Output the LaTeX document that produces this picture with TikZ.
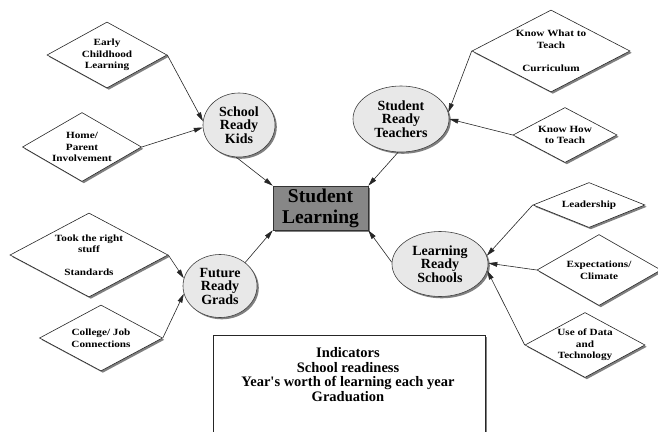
\documentclass[tikz,border=0pt]{standalone}
\usepackage{fontspec}
\setmainfont{Liberation Serif}
\newfontfamily\dfont{Liberation Serif}[FakeStretch=1.18]
\usetikzlibrary{shapes.geometric,arrows.meta,shadows}
\tikzset{
  shd/.style={drop shadow={shadow xshift=1.8pt, shadow yshift=-1.8pt, fill=black!50, opacity=1}},
  dia/.style={shape=diamond, draw=black!85, line width=0.6pt, fill=white, inner sep=0pt,
    align=center, font=\dfont\bfseries\fontsize{9.5}{11.5}\selectfont, shd},
  ell/.style={shape=ellipse, draw=black!75, line width=0.6pt, fill=black!9, inner sep=0pt,
    align=center, font=\bfseries\fontsize{14}{13.5}\selectfont, shd},
  arr/.style={-{Triangle[length=9pt,width=4.8pt]}, line width=0.6pt, draw=black!85},
}
\begin{document}
\begin{tikzpicture}[x=1pt,y=-1pt]
\path[use as bounding box] (0,0) rectangle (658,431);
\clip (0,0) rectangle (658,431);
% left diamonds
\node[dia, minimum width=120pt, minimum height=66pt, aspect=1.82] (ecl) at (107,55) {Early\\Childhood\\Learning};
\node[dia, minimum width=119pt, minimum height=69pt, aspect=1.72] (hpi) at (82,147) {Home/\\Parent\\Involvement};
\node[dia, minimum width=158pt, minimum height=84pt, aspect=1.88] (trs) at (89,255) {Took the right\\stuff\\[11.5pt]Standards};
\node[dia, minimum width=123pt, minimum height=66pt, aspect=1.86] (cjc) at (101,338) {College/ Job\\Connections};
% right diamonds
\node[dia, minimum width=158pt, minimum height=82pt, aspect=1.93] (kwt) at (551,51) {Know What to\\Teach\\[11.5pt]Curriculum};
\node[dia, minimum width=104pt, minimum height=55pt, aspect=1.89] (kht) at (565,135) {Know How\\to Teach};
\node[dia, minimum width=112pt, minimum height=45pt, aspect=2.5] (lead) at (589,205) {Leadership};
\node[dia, minimum width=124pt, minimum height=71pt, aspect=1.75] (exp) at (599,270) {Expectations/\\Climate};
\node[dia, minimum width=120pt, minimum height=65pt, aspect=1.85] (udt) at (585,345) {Use of Data\\and\\Technology};
% ellipses
\node[ell, minimum width=72pt, minimum height=64pt] (srk) at (239,125) {School\\Ready\\Kids};
\node[ell, minimum width=96pt, minimum height=66pt] (srt) at (401,119) {Student\\Ready\\Teachers};
\node[ell, minimum width=74pt, minimum height=63pt] (frg) at (220,286) {Future\\Ready\\Grads};
\node[ell, minimum width=96pt, minimum height=65pt] (lrs) at (440,264) {Learning\\Ready\\Schools};
% centre
\node[draw=black!80, line width=0.6pt, fill=black!47, minimum width=95pt, minimum height=44pt, inner sep=0pt,
  align=center, font=\bfseries\fontsize{19.5}{21}\selectfont, shd] (sl) at (320.5,208) {Student\\Learning};
% indicators
\node[draw=black!85, line width=0.6pt, fill=white, minimum width=272pt, minimum height=115pt, anchor=north, shd] (indbox) at (349,335) {};
\node[align=center, font=\bfseries\fontsize{14.5}{14.5}\selectfont, inner sep=0pt] (ind) at (348,374.5) {Indicators\\School readiness\\Year\textquotesingle s worth of learning each year\\Graduation};
% connectors
\draw[arr] (ecl.east) -- (srk.174);
\draw[arr] (hpi.east) -- (srk.184);
\draw[arr] (srk.-95) -- (sl.north west);
\draw[arr] (srt.-95) -- (sl.north east);
\draw[arr] (frg.43) -- (sl.south west);
\draw[arr] (lrs.178) -- (sl.south east);
\draw[arr] (kwt.west) -- (srt.8);
\draw[arr] (kht.west) -- (srt.0);
\draw[arr] (trs.east) -- (frg.168);
\draw[arr] (cjc.east) -- (frg.192);
\draw[arr] (lead.west) -- (lrs.10);
\draw[arr] (exp.west) -- (lrs.1);
\draw[arr] (udt.west) -- (lrs.-8);
\end{tikzpicture}
\end{document}
